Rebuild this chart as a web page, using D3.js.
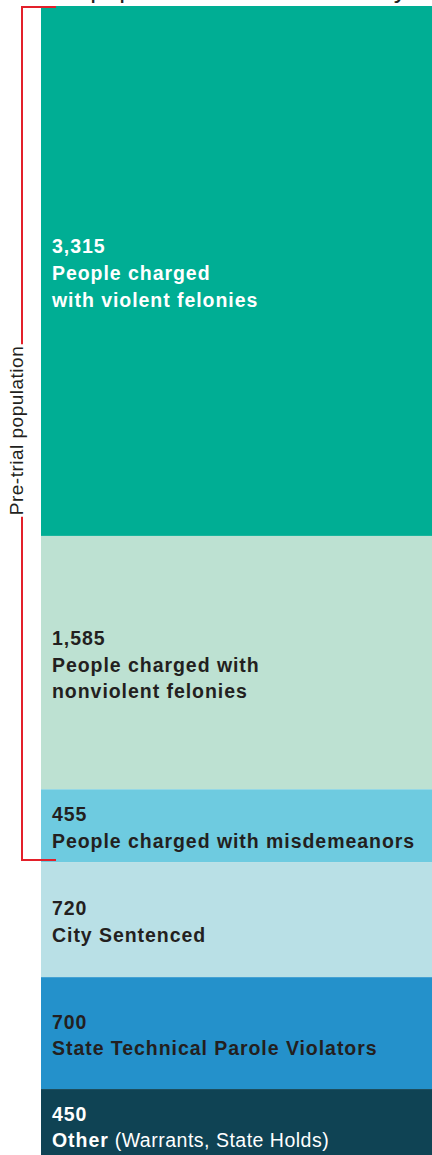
<!DOCTYPE html>
<html>
<head>
<meta charset="utf-8">
<script src="https://cdn.jsdelivr.net/npm/d3@7"></script>
<style>
  html, body { margin: 0; padding: 0; background: #fff; }
  svg { display: block; font-family: "Liberation Sans", Arial, Helvetica, sans-serif; }
</style>
</head>
<body>
<svg id="chart" width="432" height="1155"></svg>
<script>
// ---- Data ----
const categories = [
  "violent felonies",
  "nonviolent felonies",
  "misdemeanors",
  "city sentenced",
  "state technical parole violators",
  "other"
];
const values = [3315, 1585, 455, 720, 700, 450];
const labelLines = [
  ["People charged", "with violent felonies"],
  ["People charged with", "nonviolent felonies"],
  ["People charged with misdemeanors"],
  ["City Sentenced"],
  ["State Technical Parole Violators"],
  ["Other"]
];
const labelSuffix = ["", "", "", "", "", " (Warrants, State Holds)"];
const colors = ["#00ae94", "#bde1d2", "#6ecbe0", "#b9e0e6", "#2491cb", "#0f4354"];
const textColors = ["#ffffff", "#231f20", "#231f20", "#231f20", "#231f20", "#ffffff"];
const bracketLabel = "Pre-trial population";
const bracketCount = 3; // first three categories are pre-trial
const titleText = "Jail population in New York City";

// ---- Layout ----
const svg = d3.select("#chart");
const barX0 = 41, barX1 = 432;
const total = d3.sum(values);
const y = d3.scaleLinear().domain([0, total]).range([6, 1161]);

const cum = d3.cumsum(values);
const segs = values.map((v, i) => ({ i, v, start: cum[i] - v, end: cum[i] }));

// Title (cut off at top in the reference: only descenders visible)
svg.append("text")
  .attr("x", 44).attr("y", -2)
  .attr("font-size", 26).attr("fill", "#231f20")
  .text(titleText);

// Bars
svg.append("g").selectAll("rect").data(segs).join("rect")
  .attr("x", barX0)
  .attr("width", barX1 - barX0)
  .attr("y", d => y(d.start))
  .attr("height", d => y(d.end) - y(d.start))
  .attr("fill", d => colors[d.i]);

// Labels
const fmt = d3.format(",");
const lineH = 26.6;
const labelG = svg.append("g");
segs.forEach(d => {
  const lines = labelLines[d.i];
  const n = lines.length + 1;
  const center = (y(d.start) + y(d.end)) / 2;
  const first = center - (n - 1) * lineH / 2 + 9;
  const t = labelG.append("text")
    .attr("x", 52)
    .attr("fill", textColors[d.i])
    .attr("font-size", 19.5)
    .attr("letter-spacing", 0.95)
    .attr("font-weight", "bold");
  t.append("tspan").attr("x", 52).attr("y", first).text(fmt(d.v));
  lines.forEach((ln, k) => {
    t.append("tspan").attr("x", 52).attr("y", first + (k + 1) * lineH).text(ln);
    if (k === lines.length - 1 && labelSuffix[d.i]) {
      t.append("tspan").attr("font-weight", "normal").attr("letter-spacing", 0.5).text(labelSuffix[d.i]);
    }
  });
});

// Pre-trial bracket
const red = "#e3202a";
const bx = 22;
const bTop = y(0) + 1;
const bBot = y(cum[bracketCount - 1]) - 2;
const bMid = (bTop + bBot) / 2 - 3;
const bt = svg.append("text")
  .attr("transform", `translate(${bx + 1},${bMid}) rotate(-90)`)
  .attr("text-anchor", "middle")
  .attr("font-size", 19)
  .attr("letter-spacing", 0.5)
  .attr("fill", "#231f20")
  .text(bracketLabel);
const tl = bt.node().getComputedTextLength();
const gap = 1.5;
const bg = svg.append("g").attr("stroke", red).attr("stroke-width", 2).attr("fill", "none");
bg.append("path").attr("d", `M56,${bTop} H${bx} V${bMid - tl / 2 - gap}`);
bg.append("path").attr("d", `M${bx},${bMid + tl / 2 + gap} V${bBot} H56`);
</script>
</body>
</html>
